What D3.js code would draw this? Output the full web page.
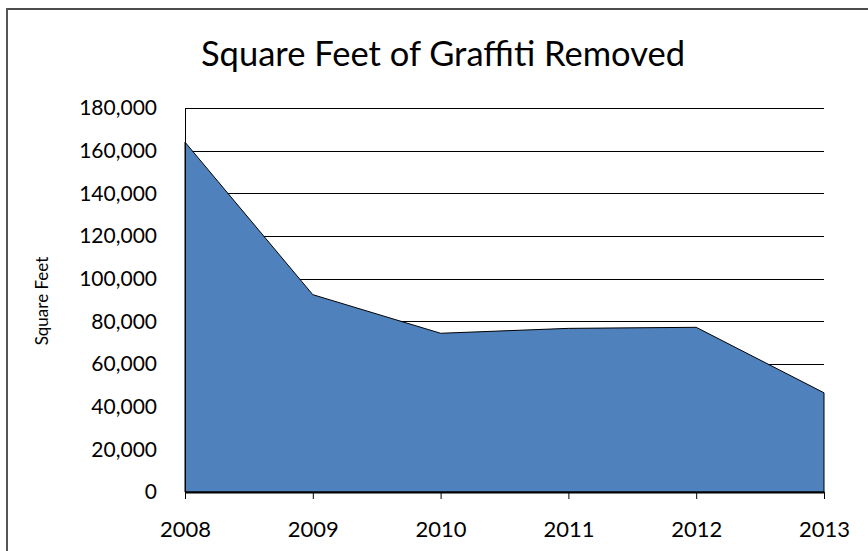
<!DOCTYPE html>
<html>
<head>
<meta charset="utf-8">
<script src="https://cdn.jsdelivr.net/npm/d3@7"></script>
<style>
  body { margin: 0; background: #fff; }
  svg { display: block; font-family: Lato, "Open Sans", sans-serif; }
</style>
</head>
<body>
<script>
// data
var years = ["2008", "2009", "2010", "2011", "2012", "2013"];
var sqFeet = [164000, 92500, 74400, 76700, 77200, 46500];
var yTicks = [0, 20000, 40000, 60000, 80000, 100000, 120000, 140000, 160000, 180000];

var width = 868, height = 551;
var margin = {top: 108, right: 44, bottom: 59, left: 185};

var svg = d3.select("body").append("svg")
    .attr("width", width)
    .attr("height", height);

// outer chart border (only top and left show in the crop)
svg.append("line")
    .attr("x1", 6).attr("x2", width).attr("y1", 9).attr("y2", 9)
    .attr("stroke", "#111").attr("stroke-width", 1.5);
svg.append("line")
    .attr("x1", 7).attr("x2", 7).attr("y1", 8).attr("y2", height)
    .attr("stroke", "#555").attr("stroke-width", 2);

var x = d3.scalePoint()
    .domain(years)
    .range([margin.left, width - margin.right]);

var y = d3.scaleLinear()
    .domain([0, 180000])
    .range([height - margin.bottom, margin.top]);

// gridlines
svg.append("g")
  .selectAll("line")
  .data(yTicks.slice(1))
  .enter().append("line")
    .attr("x1", margin.left).attr("x2", width - margin.right)
    .attr("y1", function(d) { return Math.round(y(d)) + 0.5; })
    .attr("y2", function(d) { return Math.round(y(d)) + 0.5; })
    .attr("stroke", "#000")
    .attr("stroke-width", 1);

// the area
var area = d3.area()
    .x(function(d, i) { return x(years[i]); })
    .y0(y(0))
    .y1(function(d) { return y(d); });

svg.append("path")
    .datum(sqFeet)
    .attr("d", area)
    .attr("fill", "#4F81BD")
    .attr("stroke", "#000")
    .attr("stroke-width", 1);

// y axis
var yAxis = svg.append("g")
    .attr("transform", "translate(" + margin.left + ",0)")
    .call(d3.axisLeft(y).tickValues(yTicks).tickSize(0).tickPadding(28)
        .tickFormat(d3.format(",")));
yAxis.select(".domain").attr("stroke", "#000");
yAxis.selectAll("text")
    .attr("font-size", 21)
    .attr("font-family", "Lato, 'Open Sans', sans-serif")
    .attr("fill", "#000");

// x axis
var xAxis = svg.append("g")
    .attr("transform", "translate(0," + y(0) + ")")
    .call(d3.axisBottom(x).tickSize(7).tickSizeOuter(0).tickPadding(13));
xAxis.select(".domain").attr("stroke", "#000").attr("stroke-width", 2);
xAxis.selectAll("text")
    .attr("y", 45)
    .attr("dy", 0)
    .attr("font-size", 22)
    .attr("font-family", "Lato, 'Open Sans', sans-serif")
    .attr("fill", "#000");

// titles
svg.append("text")
    .attr("x", 443).attr("y", 66)
    .attr("text-anchor", "middle")
    .attr("font-size", 34.5)
    .text("Square Feet of Graffiti Removed");

svg.append("text")
    .attr("transform", "translate(48,301) rotate(-90)")
    .attr("text-anchor", "middle")
    .attr("font-size", 17)
    .text("Square Feet");
</script>
</body>
</html>
